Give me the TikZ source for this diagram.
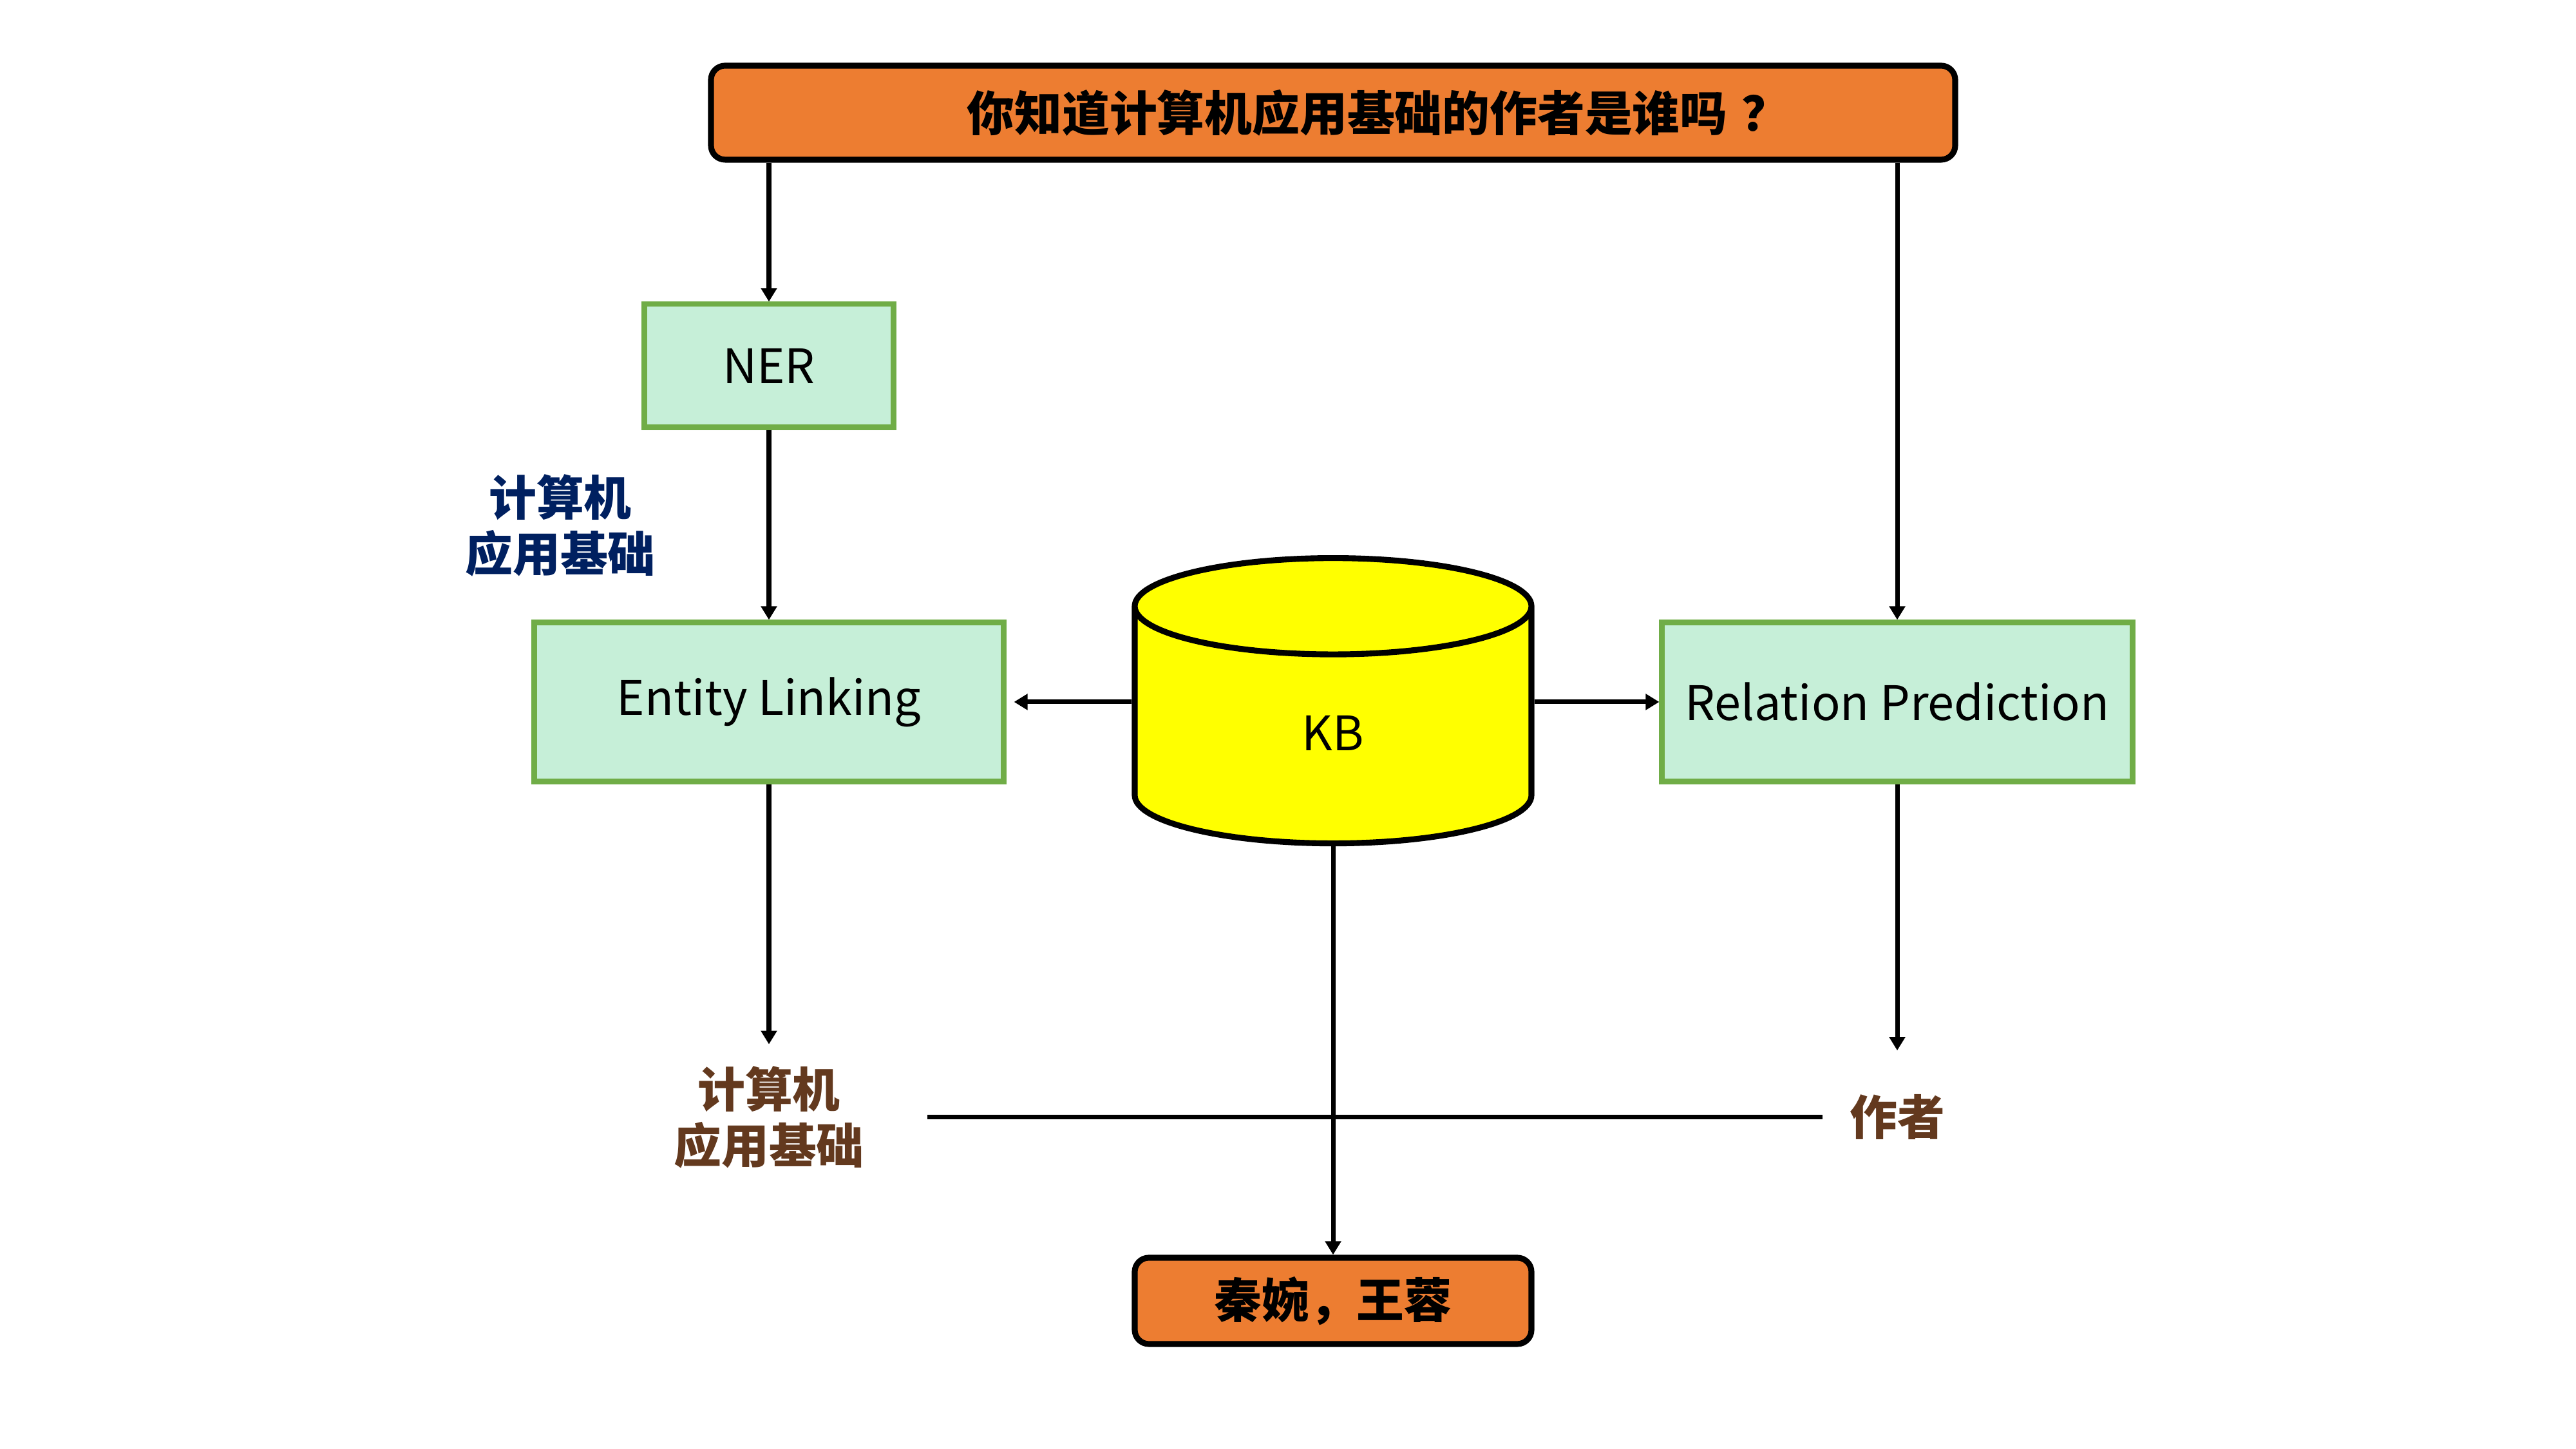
\documentclass[tikz,border=0pt]{standalone}
\usepackage{fontspec}
\setmainfont{Noto Sans CJK SC}
\usepackage{tikz}
\usetikzlibrary{arrows.meta}
\usetikzlibrary{positioning}
\usetikzlibrary{shapes.geometric}
\definecolor{qorange}{RGB}{237, 125, 49}
\definecolor{lgreen}{RGB}{198, 239, 216}
\definecolor{bgreen}{RGB}{112, 173, 71}
\definecolor{kbyellow}{RGB}{255, 255, 0}
\definecolor{tblue}{RGB}{0, 32, 96}
\definecolor{tbrown}{RGB}{99, 57, 30}
\tikzset{flow/.style = {line width=2pt, -{Triangle[width=0.24cm, length=0.21cm]}},
         qbox/.style = {draw, line width=2.6pt, fill=qorange, rounded corners=0.22cm,
                        font=\fontsize{21}{25}\selectfont\bfseries},
         step box/.style = {draw=bgreen, line width=2.3pt, fill=lgreen,
                            font=\fontsize{21}{25}\selectfont},
         mention/.style = {align=center, inner sep=0pt,
                           font=\fontsize{21}{25}\selectfont\bfseries}}

\begin{document}
\begin{tikzpicture}
    \useasboundingbox (0, 0) rectangle (40, 22.5);

    \node [qbox, minimum width=19.32cm, minimum height=1.46cm] (quest) at (20.70, 20.75)
        {\hspace*{1.9em}你知道计算机应用基础的作者是谁吗\hspace{0.3em}？};

    \node [step box, minimum width=3.87cm, minimum height=1.91cm] (ner) at (11.94, 16.82) {NER};
    \node [step box, minimum width=7.29cm, minimum height=2.47cm] (link) at (11.94, 11.60) {Entity Linking};
    \node [step box, minimum width=7.31cm, minimum height=2.47cm] (rel) at (29.46, 11.60) {Relation Prediction};

    \node [cylinder, shape border rotate=90, aspect=1.25, draw, line width=2.6pt,
           fill=kbyellow, minimum width=6.16cm, minimum height=4.43cm,
           font=\fontsize{21}{25}\selectfont] (kb) at (20.70, 11.12) {KB};

    \node [qbox, minimum width=6.16cm, minimum height=1.34cm] (answer) at (20.70, 2.30) {秦婉，王蓉};

    \node [mention, text=tblue] (nermention) at (8.70, 14.34) {计算机\\应用基础};
    \node [mention, text=tbrown] (entity) at (11.94, 5.15) {计算机\\应用基础};
    \node [mention, text=tbrown] (relation) at (29.46, 5.15) {作者};

    \draw [flow] (ner.north |- quest.south) -- (ner.north);
    \draw [flow] (rel.north |- quest.south) -- (rel.north);
    \draw [flow] (ner.south) -- (link.north);
    \draw [flow, shorten >=0.12cm] (kb.west |- link.east) -- (link.east);
    \draw [flow] (kb.east |- rel.west) -- (rel.west);
    \draw [flow, shorten >=0.33cm] (link.south) -- (entity.north);
    \draw [flow, shorten >=0.68cm] (rel.south) -- (relation.north);
    \draw [line width=2pt, shorten <=0.98cm, shorten >=0.42cm] (entity) -- (relation);
    \draw [flow] (kb.south) -- (answer.north);
  \end{tikzpicture}
\end{document}
